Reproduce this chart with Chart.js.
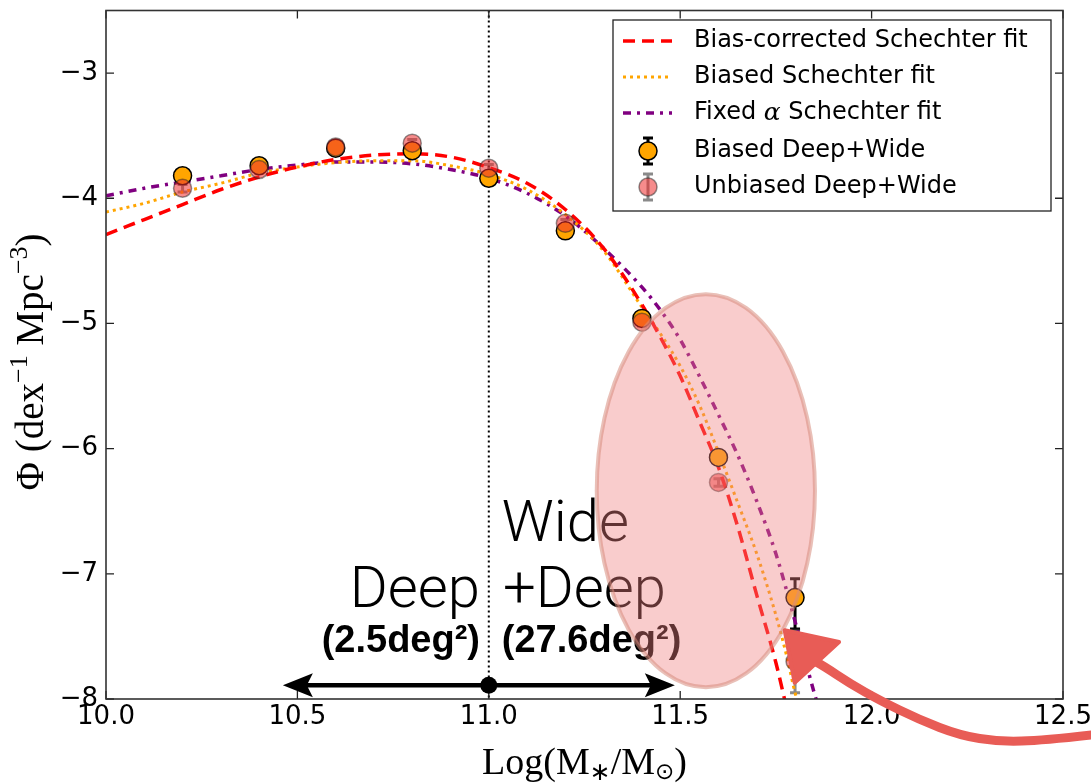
<!DOCTYPE html>
<html><head><meta charset="utf-8">
<script src="https://cdn.jsdelivr.net/npm/chart.js@4.4.1/dist/chart.umd.min.js"></script>
<style>html,body{margin:0;padding:0;background:#fff}#wrap{width:1091px;height:784px;position:relative}</style>
</head><body><div id="wrap"><canvas id="c" width="1091" height="784"></canvas></div>
<script>
// ---------- data ----------
const massBins = [10.2, 10.4, 10.6, 10.8, 11.0, 11.2, 11.4, 11.6, 11.8];
const biasedPhi = [-3.82, -3.74, -3.60, -3.62, -3.84, -4.26, -4.96, -6.07, -7.19];
const biasedErrLo = [0.03, 0.03, 0.03, 0.03, 0.03, 0.03, 0.03, 0.03, 0.25];
const biasedErrHi = [0.03, 0.03, 0.03, 0.03, 0.03, 0.03, 0.03, 0.03, 0.15];
const unbiasedPhi = [-3.92, -3.77, -3.59, -3.56, -3.76, -4.20, -4.99, -6.27, -7.70];
const unbiasedErrLo = [0.03, 0.03, 0.03, 0.03, 0.03, 0.03, 0.03, 0.03, 0.25];
const unbiasedErrHi = [0.03, 0.03, 0.03, 0.03, 0.03, 0.03, 0.03, 0.03, 0.25];

const biasCorrX = [10.0, 10.1, 10.2, 10.3, 10.4, 10.5, 10.6, 10.7, 10.8, 10.9, 11.0, 11.1, 11.2, 11.3, 11.4, 11.45, 11.5, 11.55, 11.6, 11.65, 11.7, 11.75, 11.78];
const biasCorrY = [-4.29, -4.17, -4.05, -3.93, -3.83, -3.75, -3.69, -3.655, -3.645, -3.67, -3.755, -3.88, -4.09, -4.40, -4.85, -5.12, -5.42, -5.78, -6.15, -6.62, -7.17, -7.71, -8.10];
const biasedFitX = [10.0, 10.1, 10.2, 10.3, 10.4, 10.5, 10.6, 10.7, 10.8, 10.9, 11.0, 11.1, 11.2, 11.3, 11.4, 11.45, 11.5, 11.55, 11.6, 11.65, 11.7, 11.75, 11.78, 11.8, 11.81];
const biasedFitY = [-4.11, -4.04, -3.95, -3.88, -3.80, -3.75, -3.715, -3.70, -3.70, -3.74, -3.81, -3.93, -4.13, -4.42, -4.87, -5.09, -5.34, -5.65, -6.03, -6.43, -6.84, -7.33, -7.68, -7.95, -8.05];
const fixedAlphaX = [10.0, 10.1, 10.2, 10.3, 10.4, 10.5, 10.6, 10.7, 10.8, 10.9, 11.0, 11.1, 11.2, 11.3, 11.4, 11.45, 11.5, 11.55, 11.6, 11.65, 11.7, 11.75, 11.8, 11.85, 11.86];
const fixedAlphaY = [-3.98, -3.92, -3.87, -3.82, -3.77, -3.735, -3.71, -3.71, -3.725, -3.77, -3.84, -3.96, -4.14, -4.40, -4.71, -4.90, -5.13, -5.42, -5.73, -6.05, -6.42, -6.84, -7.38, -7.95, -8.05];

const xTicks = [10.0, 10.5, 11.0, 11.5, 12.0, 12.5];
const yTicks = [-8, -7, -6, -5, -4, -3];
const boundaryMass = 11.0;
const seriesNames = ['Bias-corrected Schechter fit', 'Biased Schechter fit', 'Fixed \u03b1 Schechter fit', 'Biased Deep+Wide', 'Unbiased Deep+Wide'];

// ---------- annotation placement (data units) ----------
const ann = {
  arrowY: -7.89, arrowL: 10.462, arrowR: 11.486,
  ellipse: {cx: 11.567, cy: -6.336, rx: 0.285, ry: 1.57},
  hand: [[12.58,-8.285],[12.45,-8.33],[12.334,-8.342],[12.230,-8.29],[12.125,-8.165],[12.021,-8.01],[11.943,-7.875],[11.877,-7.74],[11.83,-7.66]],
  head: [[11.773,-7.451],[11.915,-7.545],[11.799,-7.870]]
};

const pts = (xs, ys) => xs.map((v, i) => ({x: v, y: ys[i]}));

function drawErr(ctx, xs, ys, lo, hi, sx, sy, color, w) {
  ctx.save();
  ctx.strokeStyle = color; ctx.lineWidth = w;
  xs.forEach((v, i) => {
    const px = sx.getPixelForValue(v);
    const p1 = sy.getPixelForValue(ys[i] + hi[i]);
    const p2 = sy.getPixelForValue(ys[i] - lo[i]);
    ctx.beginPath();
    ctx.moveTo(px, p1); ctx.lineTo(px, p2);
    ctx.moveTo(px - 5, p1); ctx.lineTo(px + 5, p1);
    ctx.moveTo(px - 5, p2); ctx.lineTo(px + 5, p2);
    ctx.stroke();
  });
  ctx.restore();
}

function partsText(ctx, parts, x, y, align) {
  let total = 0;
  parts.forEach(p => { ctx.font = p[1]; total += ctx.measureText(p[0]).width; });
  let cx = align === 'center' ? x - total / 2 : x;
  ctx.textAlign = 'left';
  parts.forEach(p => { ctx.font = p[1]; ctx.fillText(p[0], cx, y + (p[2] || 0)); cx += ctx.measureText(p[0]).width; });
}

const deco = {
  id: 'deco',
  beforeDatasetsDraw(chart) {
    const {ctx, chartArea: a, scales: {x, y}} = chart;
    ctx.save();
    const xv = x.getPixelForValue(boundaryMass);
    ctx.beginPath(); ctx.setLineDash([2, 3]); ctx.lineWidth = 2; ctx.strokeStyle = '#000';
    ctx.moveTo(xv, a.top); ctx.lineTo(xv, a.bottom); ctx.stroke();
    ctx.setLineDash([]);
    ctx.restore();
    drawErr(ctx, massBins, biasedPhi, biasedErrLo, biasedErrHi, x, y, '#000', 3);
    drawErr(ctx, massBins, unbiasedPhi, unbiasedErrLo, unbiasedErrHi, x, y, 'rgba(60,60,60,0.6)', 3);
  },
  afterDatasetsDraw(chart) {
    const {ctx, chartArea: a, scales: {x, y}} = chart;
    ctx.save();
    ctx.strokeStyle = '#222'; ctx.lineWidth = 1.3;
    ctx.beginPath();
    xTicks.forEach(v => { const p = x.getPixelForValue(v); ctx.moveTo(p, a.bottom); ctx.lineTo(p, a.bottom - 8); ctx.moveTo(p, a.top); ctx.lineTo(p, a.top + 8); });
    yTicks.forEach(v => { const p = y.getPixelForValue(v); ctx.moveTo(a.left, p); ctx.lineTo(a.left + 8, p); ctx.moveTo(a.right, p); ctx.lineTo(a.right - 8, p); });
    ctx.stroke();
    ctx.lineWidth = 1.6; ctx.strokeStyle = '#333';
    ctx.strokeRect(a.left, a.top, a.right - a.left, a.bottom - a.top);
    ctx.restore();
  },
  afterDraw(chart) {
    const {ctx, chartArea: a, scales: {x, y}} = chart;
    const X = v => x.getPixelForValue(v), Y = v => y.getPixelForValue(v);
    ctx.save();
    // axis titles
    ctx.fillStyle = '#000'; ctx.textBaseline = 'middle';
    const serif = '"Liberation Serif", "DejaVu Serif", serif';
    partsText(ctx, [['Log(M', '38px ' + serif], ['\u2217', '25px "DejaVu Sans"', 9], ['/M', '38px ' + serif], ['\u2299', '23px "DejaVu Sans"', 9], [')', '38px ' + serif]], (a.left + a.right) / 2, 764, 'center');
    ctx.save();
    ctx.translate(33, 362); ctx.rotate(-Math.PI / 2);
    partsText(ctx, [['\u03a6 ', '39px ' + serif], ['(dex', '39px ' + serif], ['\u22121', '26px ' + serif, -13], [' Mpc', '39px ' + serif], ['\u22123', '26px ' + serif, -13], [')', '39px ' + serif]], 0, 0, 'center');
    ctx.restore();

    // annotations
    ctx.textBaseline = 'alphabetic';
    ctx.font = '300 58px Roboto, "Liberation Sans", sans-serif';
    ctx.textAlign = 'left'; ctx.fillText('Wide', X(11.034), Y(-6.734));
    ctx.fillText('+Deep', X(11.037), Y(-7.267));
    ctx.textAlign = 'right'; ctx.fillText('Deep', X(10.977), Y(-7.267));
    ctx.font = 'bold 38px "Liberation Sans", Arial, sans-serif';
    ctx.fillText('(2.5deg\u00b2)', X(10.977), Y(-7.626));
    ctx.textAlign = 'left'; ctx.fillText('(27.6deg\u00b2)', X(11.034), Y(-7.626));

    // double arrow
    const ay = Y(ann.arrowY), al = X(ann.arrowL), ar = X(ann.arrowR);
    ctx.strokeStyle = '#000'; ctx.lineWidth = 4.5;
    ctx.beginPath(); ctx.moveTo(al + 20, ay); ctx.lineTo(ar - 20, ay); ctx.stroke();
    ctx.beginPath(); ctx.moveTo(al, ay); ctx.lineTo(al + 30, ay - 12); ctx.lineTo(al + 24, ay); ctx.lineTo(al + 30, ay + 12); ctx.closePath(); ctx.fill();
    ctx.beginPath(); ctx.moveTo(ar, ay); ctx.lineTo(ar - 30, ay - 12); ctx.lineTo(ar - 24, ay); ctx.lineTo(ar - 30, ay + 12); ctx.closePath(); ctx.fill();
    ctx.beginPath(); ctx.arc(X(boundaryMass), ay, 8.5, 0, Math.PI * 2); ctx.fill();

    // legend
    const lx = 613, ly = 20, lw = 438, lh = 191;
    ctx.fillStyle = '#fff'; ctx.fillRect(lx, ly, lw, lh);
    ctx.strokeStyle = '#222'; ctx.lineWidth = 1.3; ctx.strokeRect(lx, ly, lw, lh);
    const rows = [41, 77, 113, 151, 187];
    const ds = chart.data.datasets;
    for (let i = 0; i < 3; i++) {
      ctx.save();
      ctx.strokeStyle = ds[i].borderColor; ctx.lineWidth = ds[i].borderWidth; ctx.setLineDash(ds[i].borderDash);
      ctx.beginPath(); ctx.moveTo(623, rows[i]); ctx.lineTo(672, rows[i]); ctx.stroke();
      ctx.restore();
    }
    [[3, '#000'], [4, 'rgba(60,60,60,0.6)']].forEach(([i, ec]) => {
      const r = rows[i];
      ctx.save();
      ctx.strokeStyle = ec; ctx.lineWidth = 3;
      ctx.beginPath(); ctx.moveTo(648, r - 13); ctx.lineTo(648, r + 13);
      ctx.moveTo(643, r - 13); ctx.lineTo(653, r - 13); ctx.moveTo(643, r + 13); ctx.lineTo(653, r + 13); ctx.stroke();
      ctx.beginPath(); ctx.arc(648, r, 9, 0, Math.PI * 2);
      ctx.fillStyle = ds[i].backgroundColor; ctx.fill();
      ctx.strokeStyle = ds[i].borderColor; ctx.lineWidth = 1.5; ctx.stroke();
      ctx.restore();
    });
    ctx.fillStyle = '#000'; ctx.textBaseline = 'middle'; ctx.textAlign = 'left';
    const sans = '24px "DejaVu Sans", sans-serif';
    rows.forEach((r, i) => {
      if (i === 2) {
        partsText(ctx, [['Fixed ', sans], ['\u03b1', 'italic 25px "DejaVu Serif", serif'], [' Schechter fit', sans]], 694, r, 'left');
      } else { ctx.font = sans; ctx.fillText(seriesNames[i], 694, r); }
    });

    // highlighted ellipse
    const e = ann.ellipse;
    const ecx = X(e.cx), ecy = Y(e.cy), erx = X(e.cx + e.rx) - ecx, ery = ecy - Y(e.cy + e.ry);
    ctx.beginPath(); ctx.ellipse(ecx, ecy, erx, ery, 0, 0, Math.PI * 2);
    ctx.fillStyle = 'rgba(240,128,128,0.4)'; ctx.fill();
    ctx.strokeStyle = 'rgba(215,140,125,0.55)'; ctx.lineWidth = 4; ctx.stroke();

    // hand-drawn arrow (smooth curve through guide points)
    ctx.strokeStyle = 'rgb(232,92,86)'; ctx.fillStyle = 'rgb(232,92,86)';
    ctx.lineWidth = 9; ctx.lineCap = 'round'; ctx.lineJoin = 'round';
    const hp = ann.hand.map(p => [X(p[0]), Y(p[1])]);
    ctx.beginPath(); ctx.moveTo(hp[0][0], hp[0][1]);
    for (let i = 1; i < hp.length - 1; i++) {
      const mx = (hp[i][0] + hp[i + 1][0]) / 2, my = (hp[i][1] + hp[i + 1][1]) / 2;
      ctx.quadraticCurveTo(hp[i][0], hp[i][1], mx, my);
    }
    ctx.lineTo(hp[hp.length - 1][0], hp[hp.length - 1][1]);
    ctx.stroke();
    ctx.beginPath();
    ann.head.forEach((p, i) => { const px = X(p[0]), py = Y(p[1]); i ? ctx.lineTo(px, py) : ctx.moveTo(px, py); });
    ctx.closePath(); ctx.fill(); ctx.lineWidth = 4; ctx.stroke();
    ctx.restore();
  }
};

const tickFont = {family: '"DejaVu Sans", sans-serif', size: 26};
new Chart(document.getElementById('c'), {
  type: 'line',
  data: {
    datasets: [
      {label: seriesNames[0], data: pts(biasCorrX, biasCorrY), borderColor: '#FF0000', borderWidth: 3.5, borderDash: [12, 7], pointRadius: 0, cubicInterpolationMode: 'monotone', fill: false, order: 3},
      {label: seriesNames[1], data: pts(biasedFitX, biasedFitY), borderColor: '#FFA500', borderWidth: 3, borderDash: [3, 4], pointRadius: 0, cubicInterpolationMode: 'monotone', fill: false, order: 4},
      {label: seriesNames[2], data: pts(fixedAlphaX, fixedAlphaY), borderColor: '#800080', borderWidth: 3.5, borderDash: [8, 6, 3, 6], pointRadius: 0, cubicInterpolationMode: 'monotone', fill: false, order: 5},
      {label: seriesNames[3], data: pts(massBins, biasedPhi), showLine: false, pointRadius: 9, pointBackgroundColor: '#FFA500', pointBorderColor: '#000', pointBorderWidth: 1.5, backgroundColor: '#FFA500', borderColor: '#000', order: 1},
      {label: seriesNames[4], data: pts(massBins, unbiasedPhi), showLine: false, pointRadius: 9, pointBackgroundColor: 'rgba(238,45,45,0.55)', pointBorderColor: 'rgba(40,40,40,0.5)', pointBorderWidth: 1.5, backgroundColor: 'rgba(238,45,45,0.55)', borderColor: 'rgba(40,40,40,0.5)', order: 0}
    ]
  },
  options: {
    responsive: false, animation: false, devicePixelRatio: 1,
    layout: {padding: {left: 0, top: 7, right: 28, bottom: 0}},
    plugins: {legend: {display: false}, tooltip: {enabled: false}},
    scales: {
      x: {type: 'linear', min: 10, max: 12.5,
        grid: {display: false, drawTicks: false}, border: {display: false},
        ticks: {font: tickFont, color: '#000', padding: 3, callback: v => Number(v).toFixed(1)},
        afterBuildTicks: s => { s.ticks = xTicks.map(v => ({value: v})); },
        afterFit: s => { s.height = 85; s.paddingLeft = 0; s.paddingRight = 0; }},
      y: {type: 'linear', min: -8, max: -2.5,
        grid: {display: false, drawTicks: false}, border: {display: false},
        ticks: {font: tickFont, color: '#000', padding: 8, callback: v => (v < 0 ? '\u2212' : '') + Math.abs(v)},
        afterBuildTicks: s => { s.ticks = yTicks.map(v => ({value: v})); },
        afterFit: s => { s.width = 106; s.paddingTop = 0; s.paddingBottom = 0; }}
    }
  },
  plugins: [deco]
});
</script></body></html>
